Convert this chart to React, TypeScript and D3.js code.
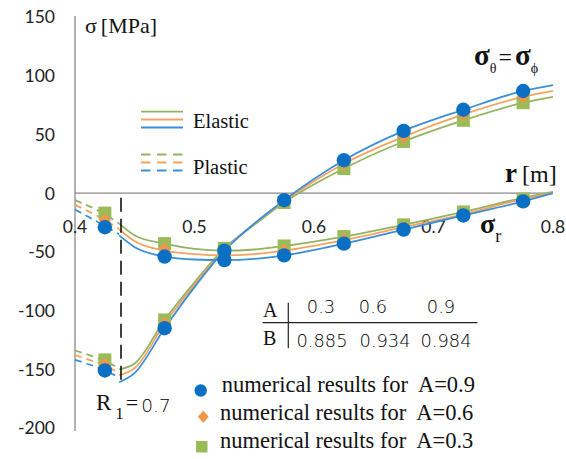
import React from "react";
import * as d3 from "d3";

// Radii where the numerical results are sampled
const R_NODES = [0.425, 0.475, 0.525, 0.575, 0.625, 0.675, 0.725, 0.775];

// Numerical results: radial stress σr [MPa]
const NUM_RADIAL_09 = [-29, -54, -57, -53, -43, -31, -19, -7];
const NUM_RADIAL_06 = [-23, -48, -53, -49, -40, -29, -18, -6];
const NUM_RADIAL_03 = [-17, -43, -50, -45, -37, -27, -16, -5];

// Numerical results: hoop stress σθ = σφ [MPa]
const NUM_HOOP_09 = [-151, -115, -49, -6, 28, 53, 71, 87];
const NUM_HOOP_06 = [-146, -111, -48, -7, 25, 48, 67, 82];
const NUM_HOOP_03 = [-142, -108, -47, -8, 21, 44, 62, 77];

// Analytical curves, plastic zone
const R_PLASTIC = [0.4, 0.425, 0.437];
const PLASTIC_RADIAL_09 = [-14, -28, -35];
const PLASTIC_RADIAL_06 = [-10, -23, -30.5];
const PLASTIC_RADIAL_03 = [-6, -18, -26];
const PLASTIC_HOOP_09 = [-142, -151, -157];
const PLASTIC_HOOP_06 = [-138, -147, -153];
const PLASTIC_HOOP_03 = [-134, -143, -149];

// Analytical curves, elastic zone
const R_ELASTIC = [0.437, 0.45, 0.475, 0.5, 0.525, 0.55, 0.575, 0.625, 0.675, 0.725, 0.775, 0.8];
const ELASTIC_RADIAL_09 = [-36, -46, -54, -56.5, -57, -56, -53, -43, -31, -19, -7, 0];
const ELASTIC_RADIAL_06 = [-31, -41, -49, -52, -53, -52, -49, -40, -29, -18, -5, 0];
const ELASTIC_RADIAL_03 = [-26, -36, -43, -47.5, -49, -48, -45, -37, -27, -16, -4, 1];
const ELASTIC_HOOP_09 = [-161, -153, -115, -80, -49, -26, -6, 28, 53, 71, 87, 92];
const ELASTIC_HOOP_06 = [-155, -149, -111, -78, -48, -26, -7, 25, 48, 67, 82, 87];
const ELASTIC_HOOP_03 = [-150, -145, -108, -76, -47, -27, -8, 21, 44, 62, 77, 82];

// Plastic/elastic boundary marker
const PLASTIC_BOUNDARY = 0.4385;

// Table of parameters
const TABLE_A = ["0.3", "0.6", "0.9"];
const TABLE_B = ["0.885", "0.934", "0.984"];

// Axis ticks
const X_TICKS = [0.4, 0.5, 0.6, 0.7, 0.8];
const Y_TICKS = [150, 100, 50, 0, -50, -100, -150, -200];

const LEGEND_LABELS = [
  "numerical results for  A=0.9",
  "numerical results for  A=0.6",
  "numerical results for  A=0.3",
];

const C_BLUE_LINE = "#3b8ed8";
const C_ORANGE_LINE = "#f6a25f";
const C_GREEN_LINE = "#93b362";
const C_BLUE_MARK = "#0b6fc3";
const C_ORANGE_MARK = "#f59548";
const C_GREEN_MARK = "#9bbb59";

const SERIF = "Liberation Serif, Tinos, Times New Roman, DejaVu Serif, serif";
const SANS = "Lato, Open Sans, sans-serif";
const LIGHT = "DejaVu Sans, sans-serif";

export default function App() {
  const W = 566;
  const H = 459;
  const x = d3.scaleLinear().domain([0.4, 0.8]).range([75, 553]);
  const y = d3.scaleLinear().domain([-200, 150]).range([428, 17]);

  const line = (rs: number[]) =>
    d3
      .line<number>()
      .x((_, i) => x(rs[i]))
      .y((v) => y(v))
      .curve(d3.curveMonotoneX);

  const elastic = line(R_ELASTIC);
  const plastic = line(R_PLASTIC);

  const curveSets = [
    { color: C_GREEN_LINE, el: [ELASTIC_RADIAL_03, ELASTIC_HOOP_03], pl: [PLASTIC_RADIAL_03, PLASTIC_HOOP_03] },
    { color: C_ORANGE_LINE, el: [ELASTIC_RADIAL_06, ELASTIC_HOOP_06], pl: [PLASTIC_RADIAL_06, PLASTIC_HOOP_06] },
    { color: C_BLUE_LINE, el: [ELASTIC_RADIAL_09, ELASTIC_HOOP_09], pl: [PLASTIC_RADIAL_09, PLASTIC_HOOP_09] },
  ];

  const squareSize = 13;
  const diamond = (cx: number, cy: number, r: number) =>
    `M${cx},${cy - r}L${cx + r * 0.85},${cy}L${cx},${cy + r}L${cx - r * 0.85},${cy}Z`;

  return (
    <svg
      width={W}
      height={H}
      viewBox={`0 0 ${W} ${H}`}
      style={{ position: "absolute", left: 0, top: 0, background: "#fff" }}
    >
      {/* axes */}
      <line x1={75} x2={75} y1={16} y2={431} stroke="#8a8a8a" strokeWidth={1.3} />
      <line x1={75} x2={553} y1={y(0)} y2={y(0)} stroke="#8a8a8a" strokeWidth={1.3} />

      {Y_TICKS.map((t) => (
        <text
          key={t}
          x={55}
          y={y(t) + 2}
          textAnchor="end"
          dominantBaseline="middle"
          fontFamily={SANS}
          fontSize={17.5}
          fill="#222"
        >
          {t}
        </text>
      ))}
      {X_TICKS.map((t) => (
        <text
          key={t}
          x={x(t)}
          y={233}
          textAnchor="middle"
          fontFamily={SANS}
          fontSize={17.5}
          fill="#222"
        >
          {t.toFixed(1)}
        </text>
      ))}

      {/* analytical curves */}
      {curveSets.map((s, i) => (
        <g key={i} fill="none" stroke={s.color} strokeWidth={1.8}>
          {s.el.map((vals, j) => (
            <path key={"e" + j} d={elastic(vals) || ""} />
          ))}
          {s.pl.map((vals, j) => (
            <path key={"p" + j} d={plastic(vals) || ""} strokeDasharray="7,5" />
          ))}
        </g>
      ))}

      {/* plastic zone boundary */}
      <line
        x1={x(PLASTIC_BOUNDARY)}
        x2={x(PLASTIC_BOUNDARY)}
        y1={y(-4)}
        y2={y(-162)}
        stroke="#111"
        strokeWidth={1.6}
        strokeDasharray="14,7"
      />

      {/* numerical results */}
      {[NUM_RADIAL_03, NUM_HOOP_03].map((vals, j) =>
        vals.map((v, i) => (
          <rect
            key={`g${j}-${i}`}
            x={x(R_NODES[i]) - squareSize / 2}
            y={y(v) - squareSize / 2}
            width={squareSize}
            height={squareSize}
            fill={C_GREEN_MARK}
          />
        ))
      )}
      {[NUM_RADIAL_06, NUM_HOOP_06].map((vals, j) =>
        vals.map((v, i) => (
          <path key={`o${j}-${i}`} d={diamond(x(R_NODES[i]), y(v), 7)} fill={C_ORANGE_MARK} />
        ))
      )}
      {[NUM_RADIAL_09, NUM_HOOP_09].map((vals, j) =>
        vals.map((v, i) => (
          <circle key={`b${j}-${i}`} cx={x(R_NODES[i])} cy={y(v)} r={7.2} fill={C_BLUE_MARK} />
        ))
      )}

      {/* axis titles */}
      <text x={85} y={33} fontFamily={SERIF} fontSize={22} fill="#111">
        σ
        <tspan dx={4}>[MPa]</tspan>
      </text>
      <text x={505} y={182} fontFamily={SERIF} fill="#111">
        <tspan fontSize={27} fontWeight="bold">r</tspan>
        <tspan fontSize={24} dx={5}>[m]</tspan>
      </text>

      {/* curve family labels */}
      <text x={474} y={65} fontFamily={SERIF} fill="#111">
        <tspan fontSize={29} fontWeight="bold">σ</tspan>
        <tspan fontSize={14} dy={8}>θ</tspan>
        <tspan fontSize={24} dy={-8} dx={2}>=</tspan>
        <tspan fontSize={29} fontWeight="bold" dx={3}>σ</tspan>
        <tspan fontSize={14} dy={8}>ϕ</tspan>
      </text>
      <text x={480} y={233} fontFamily={SERIF} fill="#111">
        <tspan fontSize={28} fontWeight="bold">σ</tspan>
        <tspan fontSize={18} dy={9}>r</tspan>
      </text>

      {/* line style legend */}
      <g strokeWidth={1.8}>
        <line x1={141} x2={183} y1={111.7} y2={111.7} stroke={C_GREEN_LINE} />
        <line x1={141} x2={183} y1={119.5} y2={119.5} stroke={C_ORANGE_LINE} />
        <line x1={141} x2={183} y1={127.5} y2={127.5} stroke={C_BLUE_LINE} />
        <line x1={141} x2={183} y1={154.5} y2={154.5} stroke={C_GREEN_LINE} strokeDasharray="9.5,6.5" />
        <line x1={141} x2={183} y1={162.5} y2={162.5} stroke={C_ORANGE_LINE} strokeDasharray="9.5,6.5" />
        <line x1={141} x2={183} y1={170.5} y2={170.5} stroke={C_BLUE_LINE} strokeDasharray="9.5,6.5" />
      </g>
      <text x={193} y={128} fontFamily={SERIF} fontSize={20.5} fill="#111">
        Elastic
      </text>
      <text x={193} y={174} fontFamily={SERIF} fontSize={20.5} fill="#111">
        Plastic
      </text>

      {/* parameter table */}
      <line x1={262.5} x2={477.5} y1={322.7} y2={322.7} stroke="#222" strokeWidth={1.2} />
      <line x1={288.3} x2={288.3} y1={302.7} y2={348.3} stroke="#222" strokeWidth={1.2} />
      <text x={263} y={317} fontFamily={SERIF} fontSize={20} fill="#111">A</text>
      <text x={263} y={345} fontFamily={SERIF} fontSize={20} fill="#111">B</text>
      {TABLE_A.map((t, i) => (
        <text
          key={"a" + t}
          x={[321, 373, 441][i]}
          y={312.7}
          textAnchor="middle"
          fontFamily={LIGHT}
          fontWeight={200}
          fontSize={17.8}
          fill="#000"
        >
          {t}
        </text>
      ))}
      {TABLE_B.map((t, i) => (
        <text
          key={"b" + t}
          x={[322, 385, 446][i]}
          y={346.7}
          textAnchor="middle"
          fontFamily={LIGHT}
          fontWeight={200}
          fontSize={17.8}
          fill="#000"
        >
          {t}
        </text>
      ))}

      {/* boundary label */}
      <text x={96} y={410} fontFamily={SERIF} fontSize={23} fill="#111">
        R
        <tspan fontSize={17} dy={9} dx={4}>1</tspan>
        <tspan fontSize={22} dy={-9} dx={2}>=</tspan>
        <tspan fontFamily={LIGHT} fontWeight={200} fontSize={18.5} dx={3} dy={1.5} fill="#000">0.7</tspan>
      </text>

      {/* marker legend */}
      <circle cx={200.7} cy={390.5} r={6.2} fill={C_BLUE_MARK} />
      <path d={diamond(203.3, 416.7, 6.3)} fill={C_ORANGE_MARK} />
      <rect x={196} y={441} width={11.5} height={11.5} fill={C_GREEN_MARK} />
      {LEGEND_LABELS.map((t, i) => (
        <text
          key={t}
          x={i === 0 ? 221.7 : 220}
          y={[391.7, 420, 448][i]}
          fontFamily={SERIF}
          fontSize={22.5}
          fill="#111"
          style={{ whiteSpace: "pre" }}
        >
          {t}
        </text>
      ))}
    </svg>
  );
}
